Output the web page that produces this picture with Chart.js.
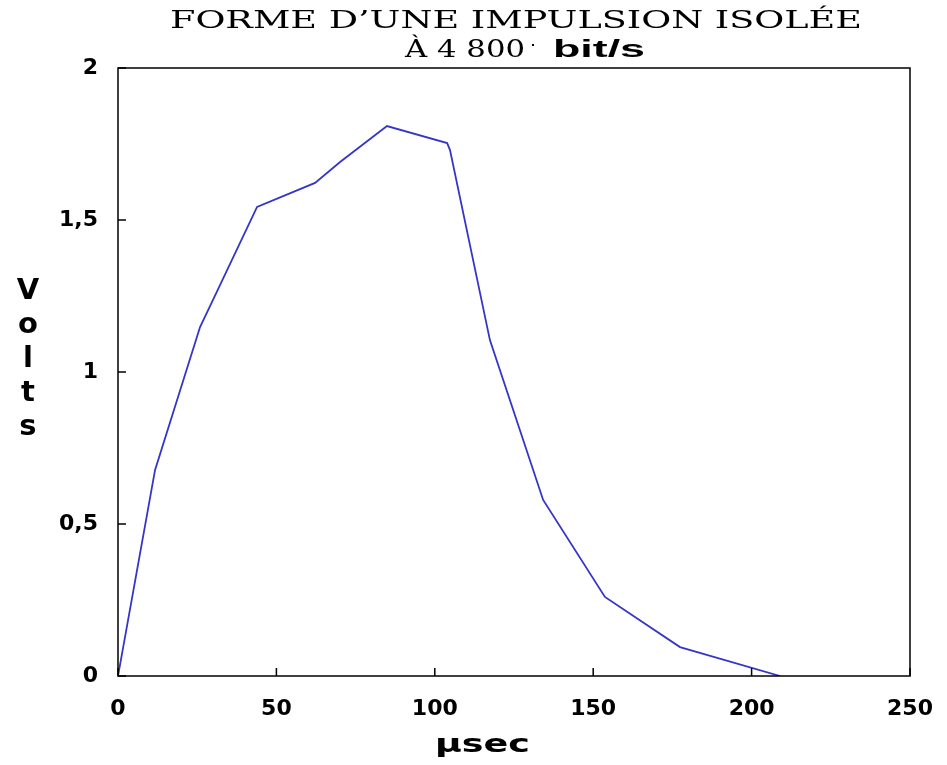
<!DOCTYPE html>
<html>
<head>
<meta charset="utf-8">
<script src="https://cdn.jsdelivr.net/npm/chart.js@4"></script>
<style>
  html, body { margin: 0; padding: 0; background: #fff; }
  #wrap { width: 947px; height: 765px; }
</style>
</head>
<body>
<div id="wrap"><canvas id="impulsion"></canvas></div>
<script>
// valeurs
const tempsUs = [0, 11.7, 25.9, 32.2, 43.9, 62.2, 70.1, 84.9, 103.9, 104.8, 117.4, 134.2, 153.7, 177.4, 209];
const volts   = [0, 0.678, 1.148, 1.286, 1.543, 1.622, 1.691, 1.809, 1.753, 1.73, 1.105, 0.579, 0.26, 0.095, 0];

const titreL1 = "FORME D\u2019UNE IMPULSION ISOLÉE";
const titreL2a = "À 4 800";
const titreL2b = "bit/s";
const axeY = "Volts";
const axeX = "µsec";

const points = tempsUs.map((t, i) => ({ x: t, y: volts[i] }));

// écrit un texte étiré pour occuper une largeur donnée
function texteEtire(ctx, txt, x, y, largeur) {
    const k = largeur / ctx.measureText(txt).width;
    ctx.save();
    ctx.translate(x, y);
    ctx.scale(k, 1);
    ctx.fillText(txt, 0, 0);
    ctx.restore();
}

// cadre, graduations vers l'intérieur, titres
const decor = {
    id: 'decor',
    afterDraw(chart) {
        const ctx = chart.ctx;
        const a = chart.chartArea;
        ctx.save();
        ctx.strokeStyle = '#000';
        ctx.lineWidth = 1.5;
        ctx.strokeRect(a.left, a.top, a.right - a.left, a.bottom - a.top);

        // petites graduations
        const sx = chart.scales.x, sy = chart.scales.y;
        ctx.beginPath();
        sx.ticks.forEach((tk, i) => {
            const px = sx.getPixelForTick(i);
            ctx.moveTo(px, a.bottom);
            ctx.lineTo(px, a.bottom - 8);
        });
        sy.ticks.forEach((tk, i) => {
            const py = sy.getPixelForTick(i);
            ctx.moveTo(a.left, py);
            ctx.lineTo(a.left + 8, py);
        });
        ctx.stroke();

        // titre
        ctx.fillStyle = '#000';
        ctx.textBaseline = 'alphabetic';
        ctx.textAlign = 'left';
        ctx.font = '25px "DejaVu Serif"';
        texteEtire(ctx, titreL1, 170, 28, 692);
        texteEtire(ctx, titreL2a, 405, 57, 120);
        ctx.fillRect(532, 44, 2, 2);
        ctx.font = 'bold 23px "Liberation Sans"';
        texteEtire(ctx, titreL2b, 553, 57, 92);

        // axe x : µsec
        ctx.font = 'bold 25px "DejaVu Sans"';
        texteEtire(ctx, axeX, 435, 752, 95);

        // "Volts" lettres empilées
        ctx.font = 'bold 29px "DejaVu Sans"';
        ctx.textAlign = 'center';
        ctx.textBaseline = 'middle';
        axeY.split('').forEach((c, i) => {
            ctx.fillText(c, 28, 291 + i * 34);
        });
        ctx.restore();
    }
};

new Chart(document.getElementById('impulsion'), {
    type: 'scatter',
    data: {
        datasets: [{
            data: points,
            showLine: true,
            borderColor: '#3535c8',
            borderWidth: 1.8,
            pointRadius: 0,
            fill: false,
            tension: 0
        }]
    },
    options: {
        responsive: true,
        maintainAspectRatio: false,
        animation: false,
        layout: { padding: { top: 68, right: 37, left: 0, bottom: 0 } },
        plugins: {
            legend: { display: false },
            tooltip: { enabled: false }
        },
        scales: {
            x: {
                type: 'linear',
                min: 0,
                max: 250,
                grid: { display: false },
                border: { display: false },
                ticks: {
                    stepSize: 50,
                    color: '#000',
                    padding: 12,
                    font: { family: 'DejaVu Sans', weight: 'bold', size: 22 }
                },
                afterFit: s => { s.height = 89; }
            },
            y: {
                min: 0,
                max: 2,
                grid: { display: false },
                border: { display: false },
                ticks: {
                    stepSize: 0.5,
                    color: '#000',
                    padding: 12,
                    font: { family: 'DejaVu Sans', weight: 'bold', size: 22 },
                    callback: v => String(v).replace('.', ',')
                },
                afterFit: s => { s.width = 118; }
            }
        }
    },
    plugins: [decor]
});
</script>
</body>
</html>
